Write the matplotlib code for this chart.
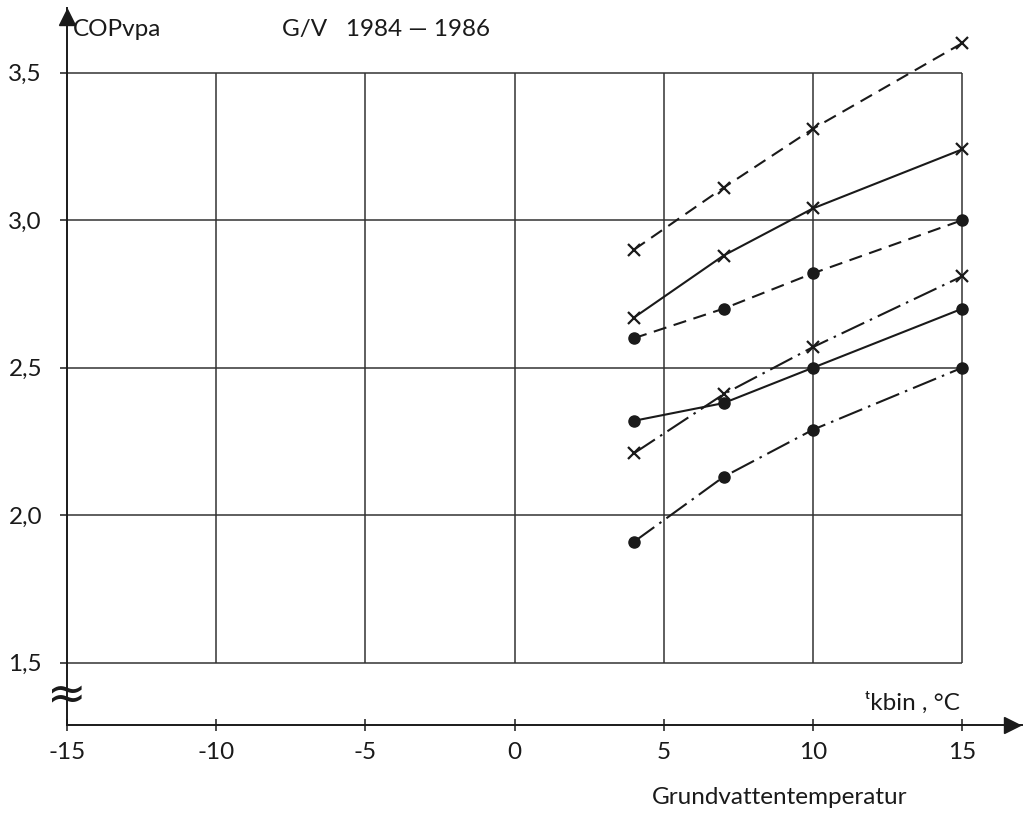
import numpy as np
import matplotlib.pyplot as plt

plt.rcParams['font.family'] = ['Lato', 'DejaVu Sans']
plt.rcParams['lines.scale_dashes'] = False

# grundvattentemperatur, °C
t_kbin = [4, 7, 10, 15]

# COPvpa per kurva
cop_dash_x = [2.90, 3.11, 3.31, 3.60]
cop_solid_x = [2.67, 2.88, 3.04, 3.24]
cop_dash_dot = [2.60, 2.70, 2.82, 3.00]
cop_dashdot_x = [2.21, 2.41, 2.57, 2.81]
cop_solid_dot = [2.32, 2.38, 2.50, 2.70]
cop_dashdot_dot = [1.91, 2.13, 2.29, 2.50]

x_ticks = [-15, -10, -5, 0, 5, 10, 15]
x_labels = ['-15', '-10', '-5', '0', '5', '10', '15']
y_ticks = [1.5, 2.0, 2.5, 3.0, 3.5]
y_labels = ['1,5', '2,0', '2,5', '3,0', '3,5']

ink = '#1a1a1a'
fs = 17.5

fig = plt.figure(figsize=(10.3, 8.16), dpi=100)
fig.patch.set_facecolor('white')
ax = fig.add_axes([67 / 1030, 91 / 816, (1022 - 67) / 1030, (725 - 8) / 816])
ax.set_xlim(-15, 17)
ax.set_ylim(1.289, 3.719)

for s in ['top', 'right']:
    ax.spines[s].set_visible(False)
for s in ['left', 'bottom']:
    ax.spines[s].set_linewidth(1.4)
    ax.spines[s].set_color(ink)

# pilar på axlarna
ax.plot(0.99, 0, '>', color=ink, ms=11, transform=ax.transAxes, clip_on=False)
ax.plot(0, 0.988, '^', color=ink, ms=11, transform=ax.transAxes, clip_on=False)

# rutnät
ax.hlines(y_ticks, -15, 15, color='#333333', lw=1.1, zorder=1)
ax.vlines(x_ticks[1:], 1.5, 3.5, color='#333333', lw=1.1, zorder=1)

ax.set_xticks(x_ticks)
ax.set_xticklabels(x_labels, fontsize=fs, color=ink)
ax.set_yticks(y_ticks)
ax.set_yticklabels(y_labels, fontsize=fs, color=ink)
ax.tick_params(axis='x', direction='inout', length=9, width=1.1, color=ink, pad=8)
ax.tick_params(axis='y', direction='out', length=5, width=1.1, color=ink, pad=13)

# kurvor
dash = (0, (9.5, 5.5))
dashdot = (0, (18, 4.5, 1.8, 4.5))
lw = 1.5
ax.plot(t_kbin, cop_dash_x, color=ink, lw=lw, ls=dash, marker='x', ms=9, mew=1.6)
ax.plot(t_kbin, cop_solid_x, color=ink, lw=lw, ls='-', marker='x', ms=9, mew=1.6)
ax.plot(t_kbin, cop_dash_dot, color=ink, lw=lw, ls=dash, marker='o', ms=8)
ax.plot(t_kbin, cop_dashdot_x, color=ink, lw=lw, ls=dashdot, marker='x', ms=9, mew=1.6)
ax.plot(t_kbin, cop_solid_dot, color=ink, lw=lw, ls='-', marker='o', ms=8)
ax.plot(t_kbin, cop_dashdot_dot, color=ink, lw=lw, ls=dashdot, marker='o', ms=8)

# axelbrott
ax.text(-15, 1.385, '≈', fontsize=34, ha='center', va='center', color=ink,
        family=['DejaVu Sans'])

ax.text(-14.79, 3.645, 'COPvpa', fontsize=fs, ha='left', va='center', color=ink)
ax.text(-7.79, 3.645, 'G/V   1984 — 1986', fontsize=fs, ha='left', va='center', color=ink)

fig.text(960 / 1030, 1 - 710 / 816, 'ᵗkbin , °C', fontsize=fs, ha='right',
         va='baseline', color=ink)
fig.text(780 / 1030, 1 - 797 / 816, 'Grundvattentemperatur', fontsize=fs,
         ha='center', va='center', color=ink)

fig.savefig('out.png', dpi=100, facecolor='white')
